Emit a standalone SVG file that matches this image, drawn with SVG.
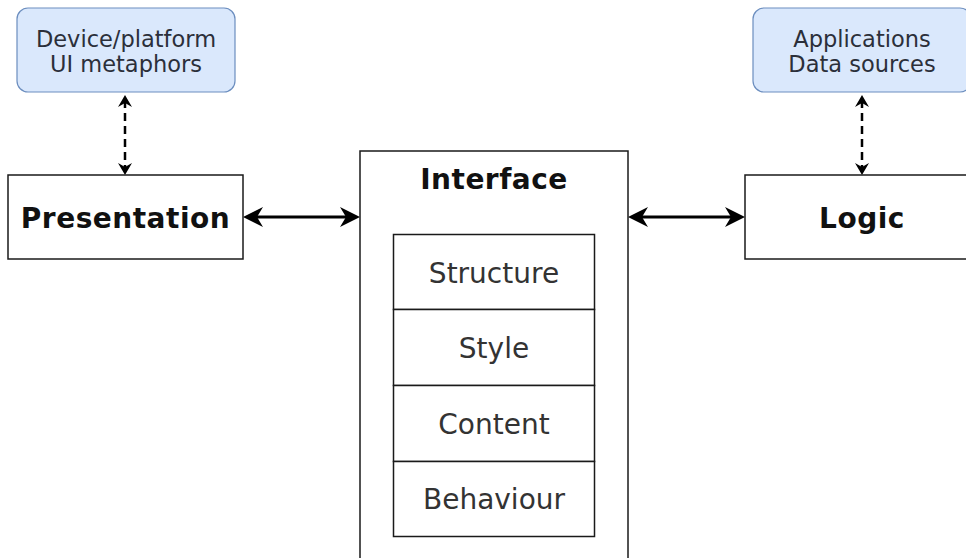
<svg xmlns="http://www.w3.org/2000/svg" width="966" height="558" viewBox="0 0 966 558">
  <defs>
    <style>
      .box { fill: #ffffff; stroke: #1a1a1a; stroke-width: 1.5; }
      .blue { fill: #dae8fc; stroke: #6c8ebf; stroke-width: 1.2; }
      .bold { font-family: "DejaVu Sans", Verdana, sans-serif; font-weight: bold; font-size: 28px; letter-spacing: 0.5px; fill: #111111; text-anchor: middle; }
      .reg { font-family: "DejaVu Sans", Verdana, sans-serif; font-size: 28px; fill: #333333; text-anchor: middle; }
      .small { font-family: "DejaVu Sans", Verdana, sans-serif; font-size: 22.5px; fill: #2b2f3a; text-anchor: middle; }
      .solid { fill: none; stroke: #000000; stroke-width: 3; }
      .dash { fill: none; stroke: #000000; stroke-width: 2.5; stroke-dasharray: 8 5; }
    </style>
    <marker id="bigArrow" markerUnits="userSpaceOnUse" viewBox="-22 -12 24 24" markerWidth="24" markerHeight="24" refX="-8" refY="0" orient="auto-start-reverse">
      <path d="M0,0 L-20,-10 L-14,0 L-20,10 Z" fill="#000000"/>
    </marker>
    <marker id="smallArrow" markerUnits="userSpaceOnUse" viewBox="-14 -9 16 18" markerWidth="16" markerHeight="18" refX="-5" refY="0" orient="auto-start-reverse">
      <path d="M0,0 L-12,-7 L-8,0 L-12,7 Z" fill="#000000"/>
    </marker>
  </defs>

  <g id="connectors">
    <path class="solid" d="M251,217 L352,217" marker-start="url(#bigArrow)" marker-end="url(#bigArrow)"/>
    <path class="solid" d="M636,217 L737,217" marker-start="url(#bigArrow)" marker-end="url(#bigArrow)"/>
    <path class="dash" d="M125,100 L125,170" marker-start="url(#smallArrow)" marker-end="url(#smallArrow)"/>
    <path class="dash" d="M862,100 L862,170" marker-start="url(#smallArrow)" marker-end="url(#smallArrow)"/>
  </g>

  <g id="device-platform">
    <rect class="blue" x="17" y="8" width="218" height="84" rx="11" ry="11"/>
    <text class="small" x="126" y="47">Device/platform</text>
    <text class="small" x="126" y="72">UI metaphors</text>
  </g>

  <g id="applications">
    <rect class="blue" x="753" y="8" width="218" height="84" rx="11" ry="11"/>
    <text class="small" x="862" y="47">Applications</text>
    <text class="small" x="862" y="72">Data sources</text>
  </g>

  <g id="presentation">
    <rect class="box" x="8" y="175" width="235" height="84"/>
    <text class="bold" x="125.5" y="228">Presentation</text>
  </g>

  <g id="logic">
    <rect class="box" x="745" y="175" width="235" height="84"/>
    <text class="bold" x="862" y="228">Logic</text>
  </g>

  <g id="interface">
    <rect class="box" x="360" y="151" width="268" height="430"/>
    <text class="bold" x="494" y="189">Interface</text>
  </g>

  <g id="structure">
    <rect class="box" x="393.5" y="234.5" width="201" height="75"/>
    <text class="reg" x="494" y="283">Structure</text>
  </g>

  <g id="style">
    <rect class="box" x="393.5" y="309.5" width="201" height="76"/>
    <text class="reg" x="494" y="358">Style</text>
  </g>

  <g id="content">
    <rect class="box" x="393.5" y="385.5" width="201" height="76"/>
    <text class="reg" x="494" y="434">Content</text>
  </g>

  <g id="behaviour">
    <rect class="box" x="393.5" y="461.5" width="201" height="75"/>
    <text class="reg" x="494" y="509">Behaviour</text>
  </g>
</svg>
